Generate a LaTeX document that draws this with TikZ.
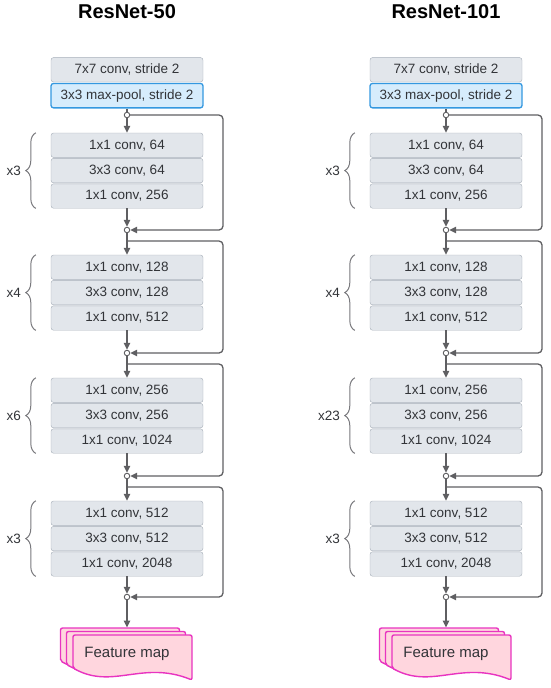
\documentclass[tikz,border=0pt]{standalone}
\usepackage{fontspec}
\setmainfont{Liberation Sans}
\usepackage{tikz}
\usetikzlibrary{positioning,arrows.meta,decorations.pathreplacing}
\definecolor{inkgray}{RGB}{50,52,56}
\definecolor{layerbg}{RGB}{226,230,235}
\definecolor{layerdraw}{RGB}{165,173,183}
\definecolor{poolbg}{RGB}{214,236,252}
\definecolor{pooldraw}{RGB}{52,152,224}
\definecolor{flowgray}{RGB}{95,95,98}
\definecolor{bracegray}{RGB}{120,120,124}
\definecolor{mapbg}{RGB}{255,214,222}
\definecolor{mapdraw}{RGB}{232,52,192}

\begin{document}
\begin{tikzpicture}[x=1pt, y=-1pt, node distance=0.6pt,
  every node/.style={font=\fontsize{13.5}{16}\selectfont, text=inkgray},
  layer/.style={draw=layerdraw, fill=layerbg, rounded corners=2.5pt, minimum width=152pt, minimum height=24.4pt, inner sep=0pt},
  pool/.style={layer, draw=pooldraw, fill=poolbg, line width=1.3pt},
  junc/.style={circle, draw=flowgray, fill=white, line width=0.9pt, inner sep=0pt, minimum size=5.5pt},
  flow/.style={draw=flowgray, line width=1.3pt, -{Triangle[length=7pt,width=6.5pt]}},
  skip/.style={flow, rounded corners=4pt},
  rep/.style={draw=bracegray, line width=1pt, decorate, decoration={brace, amplitude=10pt}},
  sheet/.pic={\draw[draw=mapdraw, fill=mapbg, line width=1.4pt, rounded corners=2pt]
    (-59.5,33) -- (-59.5,0) -- (59.5,0) -- (59.5,45)
    .. controls (10,25) and (-20,55) .. (-59.5,33) -- cycle;}]
  \useasboundingbox (0,0) rectangle (550,688);
  \foreach \c/\cx/\ttl/\nb in {a/127/ResNet-50/x6, b/446/ResNet-101/x23}{
    \node[font=\fontsize{20}{24}\selectfont\bfseries, text=black] (\c-title) at (\cx,12) {\ttl};
    \node[layer] (\c-conv) at (\cx,69.8) {7x7 conv, stride 2};
    \node[pool, below=of \c-conv] (\c-pool) {3x3 max-pool, stride 2};
    \node[junc] (\c-j1) at (\cx,115) {};
    % stage 1
    \node[layer] (\c-s1a) at (\cx,145.2) {1x1 conv, 64};
    \node[layer, below=of \c-s1a] (\c-s1b) {3x3 conv, 64};
    \node[layer, below=of \c-s1b] (\c-s1c) {1x1 conv, 256};
    \node[junc] (\c-j2) at (\cx,230) {};
    \coordinate (\c-b2) at (\cx,241);
    % stage 2
    \node[layer] (\c-s2a) at (\cx,267.2) {1x1 conv, 128};
    \node[layer, below=of \c-s2a] (\c-s2b) {3x3 conv, 128};
    \node[layer, below=of \c-s2b] (\c-s2c) {1x1 conv, 512};
    \node[junc] (\c-j3) at (\cx,353) {};
    \coordinate (\c-b3) at (\cx,364);
    % stage 3
    \node[layer] (\c-s3a) at (\cx,390.2) {1x1 conv, 256};
    \node[layer, below=of \c-s3a] (\c-s3b) {3x3 conv, 256};
    \node[layer, below=of \c-s3b] (\c-s3c) {1x1 conv, 1024};
    \node[junc] (\c-j4) at (\cx,476) {};
    \coordinate (\c-b4) at (\cx,487);
    % stage 4
    \node[layer] (\c-s4a) at (\cx,513.2) {1x1 conv, 512};
    \node[layer, below=of \c-s4a] (\c-s4b) {3x3 conv, 512};
    \node[layer, below=of \c-s4b] (\c-s4c) {1x1 conv, 2048};
    \node[junc] (\c-j5) at (\cx,597) {};
    \coordinate (\c-fin) at (\cx,627.5);
    % main line
    \draw[draw=flowgray, line width=1.3pt] (\c-pool) -- (\c-j1);
    \draw[flow] (\c-j1) -- (\c-s1a);
    \draw[flow] (\c-s1c) -- (\c-j2);
    \draw[flow] (\c-j2) -- (\c-s2a);
    \draw[flow] (\c-s2c) -- (\c-j3);
    \draw[flow] (\c-j3) -- (\c-s3a);
    \draw[flow] (\c-s3c) -- (\c-j4);
    \draw[flow] (\c-j4) -- (\c-s4a);
    \draw[flow] (\c-s4c) -- (\c-j5);
    \draw[flow] (\c-j5) -- (\c-fin);
    % shortcuts
    \draw[skip] (\c-j1) -- ++(96,0) |- (\c-j2);
    \draw[skip] (\c-b2) -- ++(96,0) |- (\c-j3);
    \draw[skip] (\c-b3) -- ++(96,0) |- (\c-j4);
    \draw[skip] (\c-b4) -- ++(96,0) |- (\c-j5);
    % repeats
    \draw[rep] ([xshift=-15pt]\c-s1c.south west) -- ([xshift=-15pt]\c-s1a.north west) node[midway, left=11pt] {x3};
    \draw[rep] ([xshift=-15pt]\c-s2c.south west) -- ([xshift=-15pt]\c-s2a.north west) node[midway, left=11pt] {x4};
    \draw[rep] ([xshift=-15pt]\c-s3c.south west) -- ([xshift=-15pt]\c-s3a.north west) node[midway, left=11pt] {\nb};
    \draw[rep] ([xshift=-15pt]\c-s4c.south west) -- ([xshift=-15pt]\c-s4a.north west) node[midway, left=11pt] {x3};
    % feature map
    \pic at (\cx-7,628) {sheet};
    \pic at (\cx-1,631.5) {sheet};
    \pic at (\cx+5.5,635) {sheet};
    \node[font=\fontsize{15}{18}\selectfont] (\c-map) at (\cx,654) {Feature map};
  }
\end{tikzpicture}
\end{document}
